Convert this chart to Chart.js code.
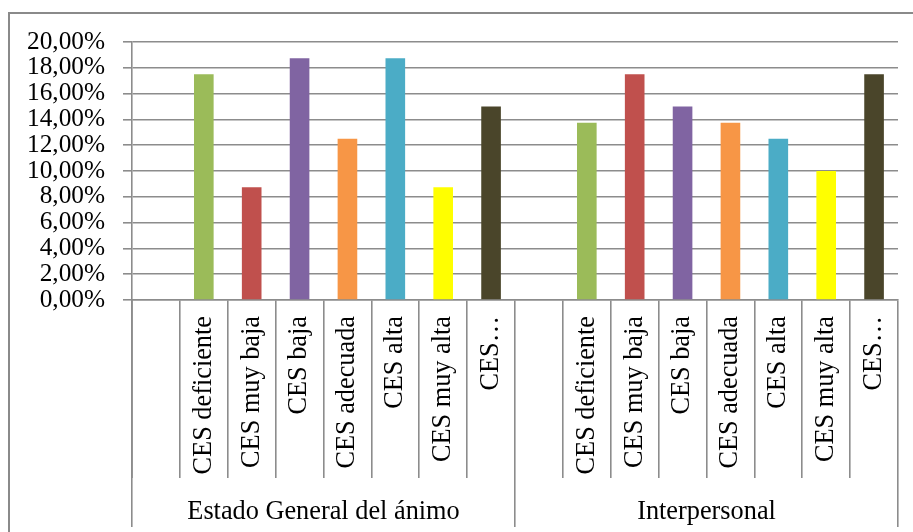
<!DOCTYPE html>
<html>
<head>
<meta charset="utf-8">
<script src="https://cdn.jsdelivr.net/npm/chart.js@4/dist/chart.umd.min.js"></script>
<style>
  html, body { margin: 0; padding: 0; background: #ffffff; overflow: hidden; }
  #wrap { position: relative; width: 913px; height: 532px; }
  #frame { position: absolute; left: 8px; top: 12px; width: 1000px; height: 1000px; border: 2px solid #8a8a8a; box-sizing: border-box; }
  canvas { position: absolute; left: 0; top: 0; }
</style>
</head>
<body>
<div id="wrap">
  <div id="frame"></div>
  <canvas id="c" width="913" height="532"></canvas>
</div>
<script>
// ---- data ----
const groups = ["Estado General del ánimo", "Interpersonal"];
const categories = [
  "", "CES deficiente", "CES muy baja", "CES baja", "CES adecuada", "CES alta", "CES muy alta", "CES…",
  "", "CES deficiente", "CES muy baja", "CES baja", "CES adecuada", "CES alta", "CES muy alta", "CES…"
];
const estadoGeneral = [null, 17.50, 8.75, 18.75, 12.50, 18.75, 8.75, 15.00];
const interpersonal = [null, 13.75, 17.50, 15.00, 13.75, 12.50, 10.00, 17.50];
const yTicks = [0, 2, 4, 6, 8, 10, 12, 14, 16, 18, 20];
const levelColors = ["rgba(0,0,0,0)", "#9BBB59", "#C0504D", "#8064A2", "#F79646", "#4BACC6", "#FFFF00", "#4A452A"];

// ---- build ----
const values = estadoGeneral.concat(interpersonal);
const colors = levelColors.concat(levelColors);
const gridCol = "#8c8c8c";
const serif = "'Liberation Serif', 'Times New Roman', serif";

// left edge of the category axis (continuation of the value axis line)
const edgeLine = {
  id: "edgeLine",
  afterDraw(chart) {
    const x = chart.scales.x, ctx = chart.ctx;
    const px = Math.round(x.left) + 0.0;
    ctx.save();
    ctx.strokeStyle = gridCol;
    ctx.lineWidth = 1.6;
    ctx.beginPath();
    ctx.moveTo(px, x.top);
    ctx.lineTo(px, x.bottom);
    ctx.stroke();
    ctx.restore();
  }
};

new Chart(document.getElementById("c"), {
  type: "bar",
  data: {
    labels: categories,
    datasets: [{
      data: values,
      backgroundColor: colors,
      borderWidth: 0,
      barPercentage: 0.41,
      categoryPercentage: 1.0
    }]
  },
  plugins: [edgeLine],
  options: {
    responsive: false,
    animation: false,
    devicePixelRatio: 1,
    layout: { padding: { left: 0, right: 15, top: 42, bottom: 0 } },
    plugins: { legend: { display: false }, tooltip: { enabled: false } },
    scales: {
      y: {
        position: "left",
        min: 0, max: 20,
        afterBuildTicks: (s) => { s.ticks = yTicks.map(v => ({ value: v })); },
        afterFit: (s) => { s.width = 132; },
        grid: { color: gridCol, lineWidth: 1.6, tickLength: 9, drawTicks: true },
        border: { display: true, color: gridCol, width: 1.6 },
        ticks: {
          autoSkip: false,
          padding: 18,
          color: "#000",
          font: { family: serif, size: 25.3 },
          callback: (v) => v.toFixed(2).replace(".", ",") + "%"
        }
      },
      x: {
        type: "category",
        position: "bottom",
        weight: 0,
        offset: true,
        afterFit: (s) => { s.height = 178; },
        grid: { offset: true, drawOnChartArea: false, tickLength: 178, color: gridCol, lineWidth: 1.6 },
        border: { display: true, color: gridCol, width: 1.6 },
        ticks: {
          autoSkip: false,
          minRotation: 90, maxRotation: 90,
          padding: -162,
          color: "#000",
          font: { family: serif, size: 26.3 }
        }
      },
      g: {
        type: "category",
        position: "bottom",
        weight: 1,
        labels: groups,
        offset: true,
        afterFit: (s) => { s.height = 54; },
        grid: { offset: true, drawOnChartArea: false, tickLength: 49, color: gridCol, lineWidth: 1.6 },
        border: { display: false },
        ticks: {
          autoSkip: false,
          maxRotation: 0, minRotation: 0,
          padding: -31,
          color: "#000",
          font: { family: serif, size: 26.3 }
        }
      }
    }
  }
});
</script>
</body>
</html>
